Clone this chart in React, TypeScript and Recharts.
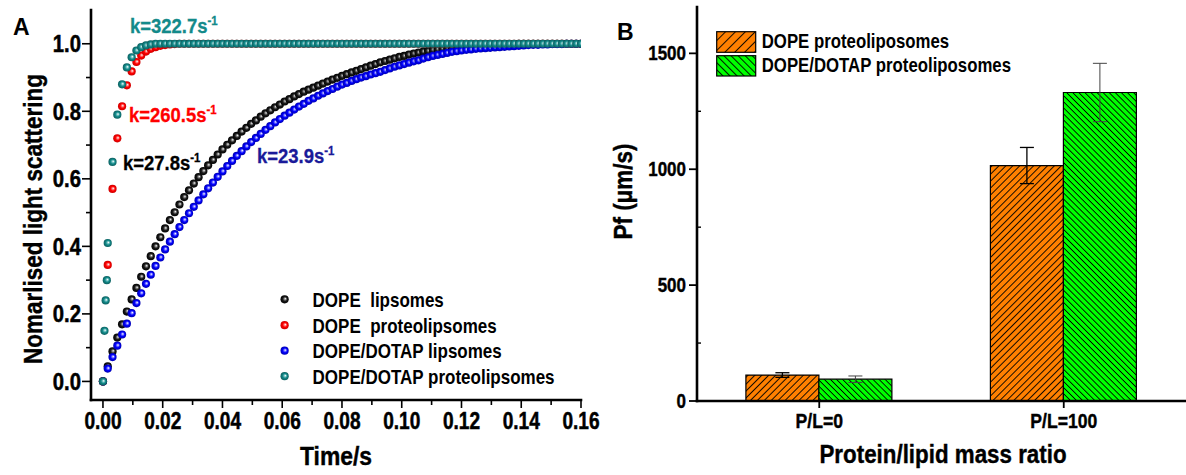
import React from 'react';
import { ScatterChart, Scatter, XAxis, YAxis, BarChart, Bar, ErrorBar } from 'recharts';

const FONT = "'Liberation Sans', Arial, sans-serif";

// ---------- Panel A data ----------
const timeGrid = [
  0, 0.0016, 0.0032, 0.0048, 0.0064, 0.008, 0.0096, 0.0112, 0.0128, 0.0144,
  0.016, 0.0176, 0.0192, 0.0208, 0.0224, 0.024, 0.0256, 0.0272, 0.0288, 0.0304,
  0.032, 0.0336, 0.0352, 0.0368, 0.0384, 0.04, 0.0416, 0.0432, 0.0448, 0.0464,
  0.048, 0.0496, 0.0512, 0.0528, 0.0544, 0.056, 0.0576, 0.0592, 0.0608, 0.0624,
  0.064, 0.0656, 0.0672, 0.0688, 0.0704, 0.072, 0.0736, 0.0752, 0.0768, 0.0784,
  0.08, 0.0816, 0.0832, 0.0848, 0.0864, 0.088, 0.0896, 0.0912, 0.0928, 0.0944,
  0.096, 0.0976, 0.0992, 0.1008, 0.1024, 0.104, 0.1056, 0.1072, 0.1088, 0.1104,
  0.112, 0.1136, 0.1152, 0.1168, 0.1184, 0.12, 0.1216, 0.1232, 0.1248, 0.1264,
  0.128, 0.1296, 0.1312, 0.1328, 0.1344, 0.136, 0.1376, 0.1392, 0.1408, 0.1424,
  0.144, 0.1456, 0.1472, 0.1488, 0.1504, 0.152, 0.1536, 0.1552, 0.1568, 0.1584,
  0.16,
];

const blackValues = [
  0, 0.045, 0.089, 0.13, 0.169, 0.207, 0.243, 0.277, 0.31, 0.341,
  0.371, 0.4, 0.427, 0.453, 0.478, 0.501, 0.524, 0.546, 0.566, 0.586,
  0.605, 0.623, 0.64, 0.656, 0.672, 0.687, 0.701, 0.714, 0.727, 0.74,
  0.751, 0.763, 0.773, 0.784, 0.794, 0.803, 0.812, 0.82, 0.829, 0.836,
  0.844, 0.851, 0.858, 0.864, 0.87, 0.876, 0.882, 0.888, 0.894, 0.899,
  0.905, 0.91, 0.915, 0.92, 0.925, 0.93, 0.935, 0.94, 0.945, 0.949,
  0.953, 0.957, 0.961, 0.964, 0.968, 0.971, 0.974, 0.977, 0.979, 0.982,
  0.984, 0.986, 0.988, 0.99, 0.991, 0.992, 0.993, 0.994, 0.995, 0.996,
  0.997, 0.997, 0.998, 0.998, 0.999, 0.999, 0.999, 1, 1, 1,
  1, 1, 1, 1, 1, 1, 1, 1, 1, 1,
  1,
];

const redValues = [
  0, 0.345, 0.57, 0.72, 0.815, 0.877, 0.918, 0.946, 0.965, 0.977,
  0.985, 0.99, 0.994, 0.996, 0.998, 0.999, 1, 1, 1, 1,
  1, 1, 1, 1, 1, 1, 1, 1, 1, 1,
  1, 1, 1, 1, 1, 1, 1, 1, 1, 1,
  1, 1, 1, 1, 1, 1, 1, 1, 1, 1,
  1, 1, 1, 1, 1, 1, 1, 1, 1, 1,
  1, 1, 1, 1, 1, 1, 1, 1, 1, 1,
  1, 1, 1, 1, 1, 1, 1, 1, 1, 1,
  1, 1, 1, 1, 1, 1, 1, 1, 1, 1,
  1, 1, 1, 1, 1, 1, 1, 1, 1, 1,
  1,
];

const blueValues = [
  0, 0.038, 0.072, 0.106, 0.139, 0.171, 0.202, 0.232, 0.261, 0.289,
  0.316, 0.342, 0.367, 0.391, 0.414, 0.436, 0.457, 0.478, 0.498, 0.517,
  0.536, 0.554, 0.572, 0.589, 0.606, 0.622, 0.638, 0.653, 0.668, 0.682,
  0.696, 0.709, 0.721, 0.733, 0.745, 0.756, 0.767, 0.777, 0.787, 0.796,
  0.805, 0.814, 0.822, 0.831, 0.838, 0.846, 0.853, 0.86, 0.866, 0.873,
  0.879, 0.884, 0.89, 0.895, 0.9, 0.904, 0.909, 0.913, 0.917, 0.922,
  0.927, 0.932, 0.936, 0.94, 0.944, 0.948, 0.951, 0.956, 0.96, 0.964,
  0.967, 0.97, 0.973, 0.976, 0.978, 0.98, 0.982, 0.983, 0.985, 0.986,
  0.987, 0.988, 0.989, 0.99, 0.991, 0.992, 0.993, 0.994, 0.995, 0.996,
  0.997, 0.997, 0.998, 0.998, 0.999, 0.999, 0.999, 1, 1, 1,
  1,
];

const tealEarlyTimes = [0, 0.0005, 0.0009, 0.0013];
const tealEarlyValues = [0, 0.15, 0.24, 0.3];
const tealValues = [
  0.41, 0.65, 0.79, 0.88, 0.93, 0.96, 0.98, 0.99, 0.995, 0.998,
  1, 1, 1, 1, 1, 1, 1, 1, 1, 1,
  1, 1, 1, 1, 1, 1, 1, 1, 1, 1,
  1, 1, 1, 1, 1, 1, 1, 1, 1, 1,
  1, 1, 1, 1, 1, 1, 1, 1, 1, 1,
  1, 1, 1, 1, 1, 1, 1, 1, 1, 1,
  1, 1, 1, 1, 1, 1, 1, 1, 1, 1,
  1, 1, 1, 1, 1, 1, 1, 1, 1, 1,
  1, 1, 1, 1, 1, 1, 1, 1, 1, 1,
  1, 1, 1, 1, 1, 1, 1, 1, 1, 1,
];

const xTicksA = [0, 0.01, 0.02, 0.03, 0.04, 0.05, 0.06, 0.07, 0.08, 0.09, 0.1, 0.11, 0.12, 0.13, 0.14, 0.15, 0.16];
const yTicksA = [0, 0.1, 0.2, 0.3, 0.4, 0.5, 0.6, 0.7, 0.8, 0.9, 1.0];

const seriesLabelsA = ['DOPE\u00A0 lipsomes', 'DOPE\u00A0 proteolipsomes', 'DOPE/DOTAP lipsomes', 'DOPE/DOTAP proteolipsomes'];
const gradIdsA = ['gBlack', 'gRed', 'gBlue', 'gTeal'];

// ---------- Panel B data ----------
const categoriesB = ['P/L=0', 'P/L=100'];
const dopePf = [112, 1016];
const dopeErr = [10, 78];
const dotapPf = [94, 1331];
const dotapErr = [14, 126];
const yTicksB = [0, 250, 500, 750, 1000, 1250, 1500];
const seriesLabelsB = ['DOPE proteoliposomes', 'DOPE/DOTAP proteoliposomes'];

const pairs = (times: number[], values: number[]) => values.map((v, i) => ({ t: times[i], v }));
const blackData = pairs(timeGrid, blackValues);
const redData = pairs(timeGrid, redValues);
const blueData = pairs(timeGrid, blueValues);
const tealData = pairs([...tealEarlyTimes, ...timeGrid.slice(1)], [...tealEarlyValues, ...tealValues]);

const barData = categoriesB.map((c, i) => ({
  cat: c,
  dope: dopePf[i],
  dopeErr: dopeErr[i],
  dotap: dotapPf[i],
  dotapErr: dotapErr[i],
}));

// ---------- helpers ----------
const ST = ({ x, y, size, weight = 'bold', sx = 0.9, anchor = 'start', fill = '#000', rot = 0, stroke, sw = 0.35, children }: any) => (
  <g transform={`translate(${x},${y}) rotate(${rot}) scale(${sx},1)`}>
    <text
      x={0}
      y={0}
      fontSize={size}
      fontWeight={weight}
      textAnchor={anchor}
      fill={fill}
      fontFamily={FONT}
      stroke={stroke || 'none'}
      strokeWidth={stroke ? sw : 0}
    >
      {children}
    </text>
  </g>
);

const DOT_R = 4.1;
const Ball = (gid: string) => (p: any) => (
  <circle cx={p.cx} cy={p.cy} r={DOT_R} fill={`url(#${gid})`} />
);

const TickBottomA = (p: any) => {
  const { x, y, payload } = p;
  const v = payload.value as number;
  const major = Math.round(v * 100) % 2 === 0;
  return (
    <g>
      <line x1={x} x2={x} y1={y} y2={y + (major ? 8 : 5)} stroke="#000" strokeWidth={1.6} />
      {major && (
        <ST x={x} y={y + 29} size={23} sx={0.83} anchor="middle" stroke="#000" sw={0.5}>
          {v.toFixed(2)}
        </ST>
      )}
    </g>
  );
};

const TickLeftA = (p: any) => {
  const { x, y, payload } = p;
  const v = payload.value as number;
  const major = Math.round(v * 10) % 2 === 0;
  return (
    <g>
      <line x1={x - (major ? 9 : 5)} x2={x} y1={y} y2={y} stroke="#000" strokeWidth={1.6} />
      {major && (
        <ST x={x - 10} y={y + 8.5} size={23} sx={0.88} anchor="end" stroke="#000" sw={0.5}>
          {v.toFixed(1)}
        </ST>
      )}
    </g>
  );
};

const TickTopA = (p: any) => (
  <line x1={p.x} x2={p.x} y1={p.y} y2={p.y + 4} stroke="#000" strokeWidth={1.4} />
);
const TickRightA = (p: any) => (
  <line x1={p.x - 4} x2={p.x} y1={p.y} y2={p.y} stroke="#000" strokeWidth={1.4} />
);

const TickLeftB = (p: any) => {
  const { x, y, payload } = p;
  const v = payload.value as number;
  const major = v % 500 === 0;
  if (!major) return <line x1={x} x2={x + 4} y1={y} y2={y} stroke="#000" strokeWidth={1.4} />;
  return (
    <g>
      <line x1={x - 8} x2={x} y1={y} y2={y} stroke="#000" strokeWidth={1.8} />
      <ST x={x - 11} y={y + 7} size={20} sx={0.85} anchor="end" stroke="#000" sw={0.4}>
        {String(v)}
      </ST>
    </g>
  );
};

const TickBottomB = (p: any) => {
  const { x, y, payload } = p;
  return (
    <g>
      <line x1={x} x2={x} y1={y} y2={y + 7} stroke="#000" strokeWidth={1.8} />
      <ST x={x} y={y + 27} size={20} sx={0.88} anchor="middle" stroke="#000" sw={0.4}>
        {payload.value}
      </ST>
    </g>
  );
};

const axisLineStyle = { stroke: '#000', strokeWidth: 2.6, strokeLinecap: 'square' as const };

const ballGrad = (id: string, c1: string, c2: string, c3: string) => (
  <radialGradient id={id} cx="0.5" cy="0.5" r="0.5" fx="0.6" fy="0.42">
    <stop offset="0" stopColor="#ffffff" />
    <stop offset="0.28" stopColor={c1} />
    <stop offset="0.55" stopColor={c2} />
    <stop offset="1" stopColor={c3} />
  </radialGradient>
);

const hatch = (id: string, fill: string, size: number, angle: number) => (
  <pattern id={id} patternUnits="userSpaceOnUse" width={size} height={size} patternTransform={`rotate(${angle})`}>
    <rect width={size} height={size} fill={fill} />
    <line x1={size / 2} y1={0} x2={size / 2} y2={size} stroke="#000" strokeWidth={0.9} />
  </pattern>
);

export default function App() {
  const legendYA = [299.3, 325.2, 350.7, 376.2];
  return (
    <div style={{ position: 'absolute', left: 0, top: 0, width: 1186, height: 475, background: '#fff', overflow: 'hidden' }}>
      <div style={{ position: 'absolute', left: 0, top: 0 }}>
        <ScatterChart width={600} height={475} margin={{ top: 10, right: 19, bottom: 45, left: 31 }}>
          <XAxis
            type="number"
            dataKey="t"
            domain={[-0.004, 0.16]}
            allowDataOverflow
            ticks={xTicksA}
            interval={0}
            tick={TickBottomA}
            tickLine={false}
            tickSize={0}
            tickMargin={0}
            axisLine={axisLineStyle}
            height={30}
          />
          <XAxis
            xAxisId="top"
            orientation="top"
            type="number"
            dataKey="t"
            domain={[-0.004, 0.16]}
            allowDataOverflow
            ticks={xTicksA}
            interval={0}
            tick={TickTopA}
            tickLine={false}
            tickSize={0}
            tickMargin={0}
            axisLine={axisLineStyle}
            height={0}
          />
          <YAxis
            type="number"
            dataKey="v"
            domain={[-0.055, 1.1]}
            allowDataOverflow
            ticks={yTicksA}
            interval={0}
            tick={TickLeftA}
            tickLine={false}
            tickSize={0}
            tickMargin={0}
            axisLine={axisLineStyle}
            width={60}
          />
          <YAxis
            yAxisId="right"
            orientation="right"
            type="number"
            dataKey="v"
            domain={[-0.055, 1.1]}
            allowDataOverflow
            ticks={yTicksA}
            interval={0}
            tick={TickRightA}
            tickLine={false}
            tickSize={0}
            tickMargin={0}
            axisLine={axisLineStyle}
            width={0}
          />
          <Scatter name={seriesLabelsA[0]} data={blackData} shape={Ball(gradIdsA[0])} isAnimationActive={false} />
          <Scatter name={seriesLabelsA[1]} data={redData} shape={Ball(gradIdsA[1])} isAnimationActive={false} />
          <Scatter name={seriesLabelsA[2]} data={blueData} shape={Ball(gradIdsA[2])} isAnimationActive={false} />
          <Scatter name={seriesLabelsA[3]} data={tealData} shape={Ball(gradIdsA[3])} isAnimationActive={false} />
        </ScatterChart>
      </div>

      <div style={{ position: 'absolute', left: 600, top: 0 }}>
        <BarChart
          width={586}
          height={475}
          data={barData}
          margin={{ top: 7, right: 0, bottom: 0, left: 0 }}
          barCategoryGap="20%"
          barGap={0}
        >
          <XAxis
            dataKey="cat"
            interval={0}
            tick={TickBottomB}
            tickLine={false}
            tickSize={0}
            tickMargin={0}
            axisLine={axisLineStyle}
            height={74}
          />
          <XAxis xAxisId="top" orientation="top" dataKey="cat" tick={false} tickLine={false} axisLine={{ stroke: '#000', strokeWidth: 2 }} height={0} />
          <YAxis
            type="number"
            domain={[0, 1700]}
            allowDataOverflow
            ticks={yTicksB}
            interval={0}
            tick={TickLeftB}
            tickLine={false}
            tickSize={0}
            tickMargin={0}
            axisLine={axisLineStyle}
            width={97}
          />
          <Bar dataKey="dope" name={seriesLabelsB[0]} fill="url(#hatchO)" stroke="#000" strokeWidth={1.2} isAnimationActive={false}>
            <ErrorBar dataKey="dopeErr" width={7} stroke="#000" strokeWidth={1.3} direction="y" />
          </Bar>
          <Bar dataKey="dotap" name={seriesLabelsB[1]} fill="url(#hatchG)" stroke="#000" strokeWidth={1.2} isAnimationActive={false}>
            <ErrorBar dataKey="dotapErr" width={7} stroke="#444" strokeWidth={1} direction="y" />
          </Bar>
        </BarChart>
      </div>

      <svg width={1186} height={475} style={{ position: 'absolute', left: 0, top: 0, pointerEvents: 'none' }}>
        <defs>
          {ballGrad('gBlack', '#777777', '#1a1a1a', '#000000')}
          {ballGrad('gRed', '#ff7070', '#ff0000', '#cc0000')}
          {ballGrad('gBlue', '#7070ff', '#0000ff', '#0000b0')}
          {ballGrad('gTeal', '#70c0c0', '#138a8a', '#0b5f5f')}
          {hatch('hatchO', '#ff8000', 4.9, 45)}
          {hatch('hatchG', '#00ff00', 4.3, -45)}
          {hatch('hatchOL', '#ff8000', 7, 45)}
          {hatch('hatchGL', '#00ff00', 5, -45)}
        </defs>

        {/* Panel A labels */}
        <ST x={13} y={35} size={23} sx={1}>A</ST>
        <ST x={42} y={219} size={25} sx={0.9} rot={-90} anchor="middle" stroke="#000" sw={0.4}>Nomarlised light scattering</ST>
        <ST x={336} y={465} size={26} sx={0.88} anchor="middle" stroke="#000" sw={0.4}>Time/s</ST>

        <ST x={130} y={33} size={21} sx={0.88} fill="#138a8a" stroke="#138a8a" sw={0.3}>
          k=322.7s<tspan dy={-8} fontSize={13}>-1</tspan>
        </ST>
        <ST x={129} y={122} size={21} sx={0.88} fill="#ff0000" stroke="#ff0000" sw={0.3}>
          k=260.5s<tspan dy={-8} fontSize={13}>-1</tspan>
        </ST>
        <ST x={123} y={170} size={21} sx={0.88} fill="#000" stroke="#000" sw={0.3}>
          k=27.8s<tspan dy={-8} fontSize={13}>-1</tspan>
        </ST>
        <ST x={257} y={163} size={21} sx={0.88} fill="#1a1a99" stroke="#1a1a99" sw={0.3}>
          k=23.9s<tspan dy={-8} fontSize={13}>-1</tspan>
        </ST>

        {seriesLabelsA.map((s, i) => (
          <g key={s}>
            <circle cx={284.6} cy={legendYA[i]} r={DOT_R} fill={`url(#${gradIdsA[i]})`} />
            <ST x={312.6} y={legendYA[i] + 7.5} size={20} sx={0.85}>
              {s}
            </ST>
          </g>
        ))}

        {/* Panel B labels */}
        <ST x={617} y={40} size={23} sx={1}>B</ST>
        <ST x={632} y={191.5} size={25} sx={0.9} rot={-90} anchor="middle" stroke="#000" sw={0.4}>Pf (μm/s)</ST>
        <ST x={943} y={463} size={26} sx={0.86} anchor="middle" stroke="#000" sw={0.4}>Protein/lipid mass ratio</ST>

        <rect x={716.7} y={31.7} width={39} height={20.6} fill="url(#hatchOL)" stroke="#000" strokeWidth={1.2} />
        <rect x={716.7} y={55.7} width={39} height={20.3} fill="url(#hatchGL)" stroke="#000" strokeWidth={1.2} />
        <ST x={761.7} y={48} size={20} sx={0.84}>{seriesLabelsB[0]}</ST>
        <ST x={761.7} y={72} size={20} sx={0.84}>{seriesLabelsB[1]}</ST>
      </svg>
    </div>
  );
}
